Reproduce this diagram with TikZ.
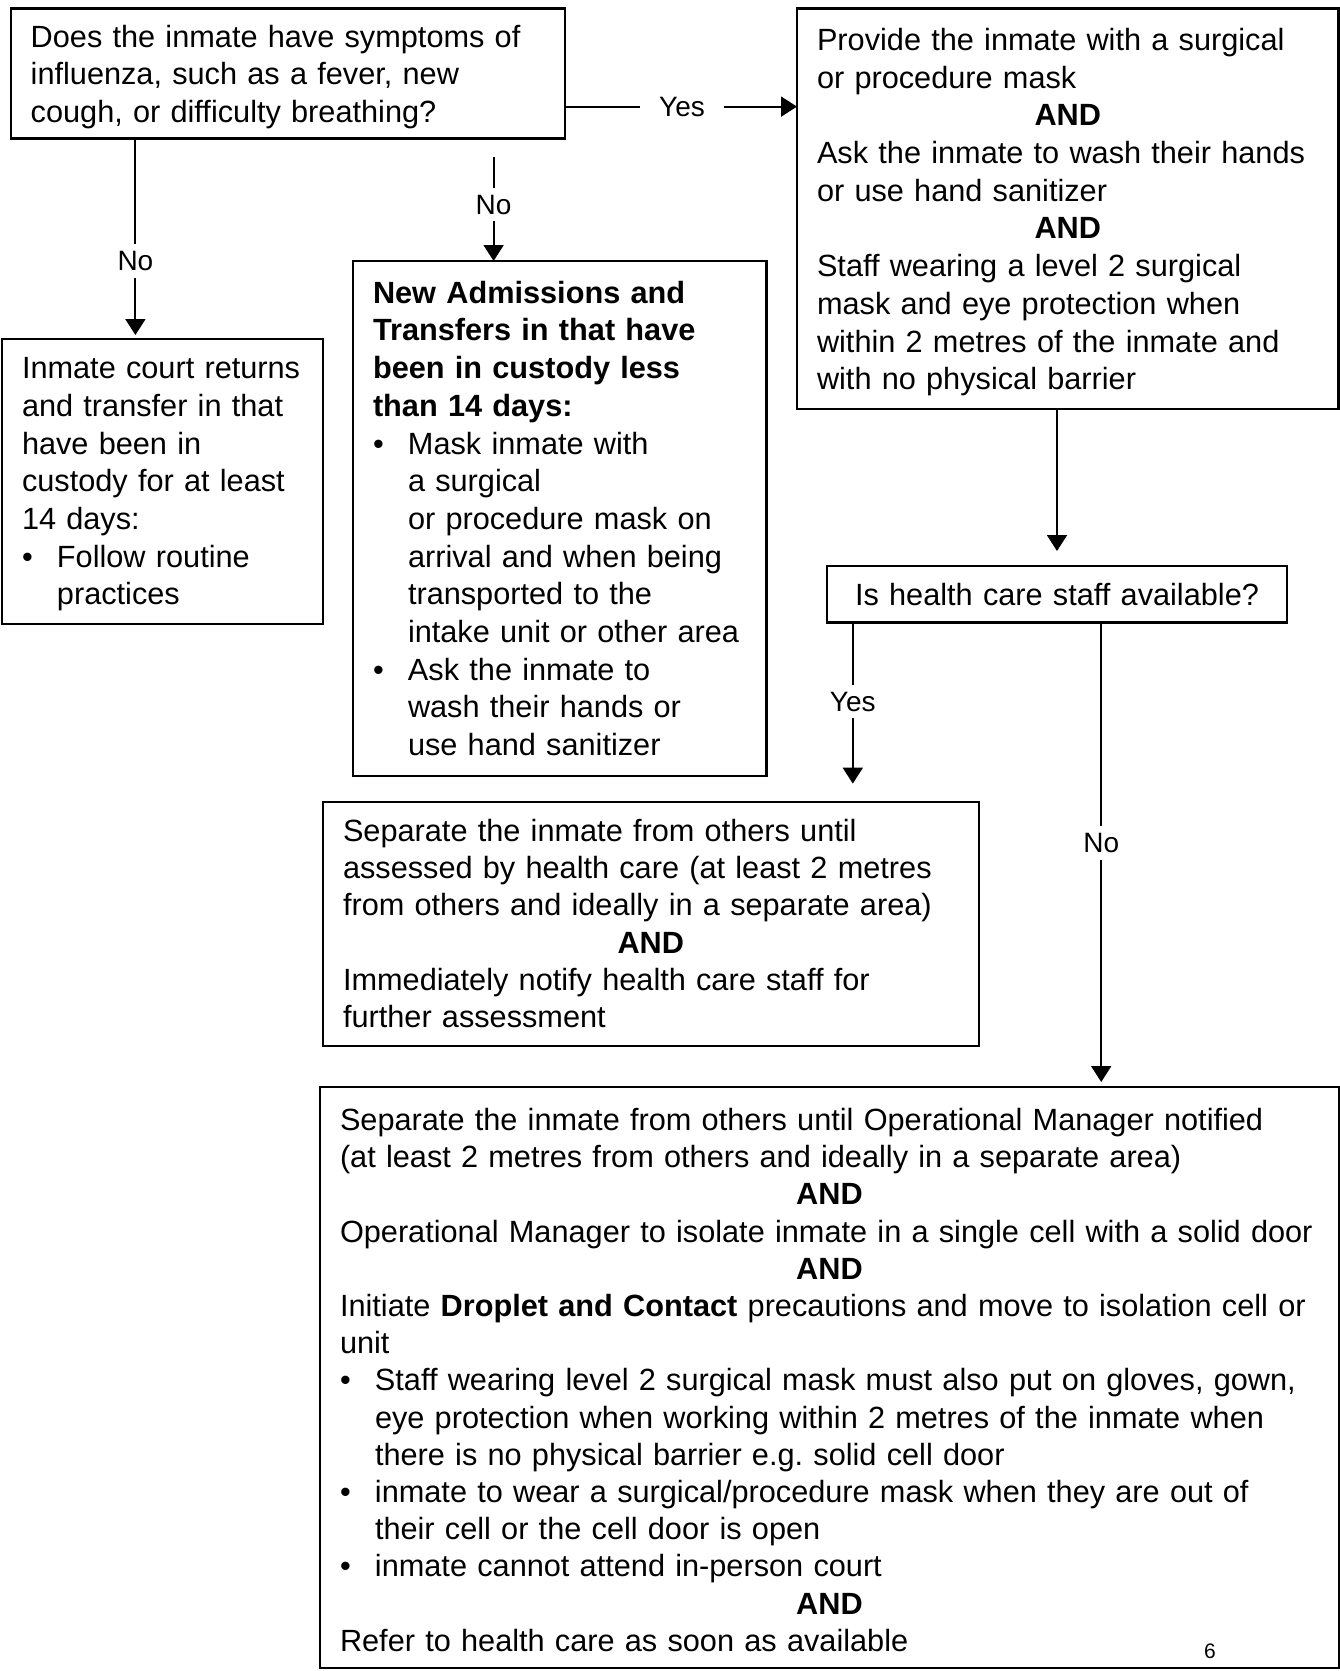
\documentclass[tikz,border=0pt]{standalone}
\usepackage{fontspec}
\setmainfont{Liberation Sans}
\usetikzlibrary{arrows.meta,calc}
\frenchspacing
\newcommand{\bitem}{\makebox[35pt][l]{\textbullet}}
\newcommand{\bcont}{\hspace*{35pt}}
\newcommand{\andline}{\makebox[\linewidth]{\textbf{AND}}}
\newcommand{\lne}[1]{\mbox{#1}}
\begin{document}
\begin{tikzpicture}[x=1pt,y=-1pt,
  box/.style={draw, line width=2.2pt, anchor=north west, inner xsep=20pt, inner ysep=0pt,
    align=left, outer sep=0pt, font=\fontsize{30.7}{37.7}\selectfont},
  tdown/.style={execute at begin node={\rule{0pt}{#1}}},
  lab/.style={fill=white, inner xsep=8pt, inner ysep=7pt, font=\fontsize{28}{32}\selectfont},
  arr/.style={line width=2pt, -{Triangle[length=16pt,width=20pt]}}]
\useasboundingbox (0,0) rectangle (1340,1671);

% boxes
\node[box, tdown=29pt, text width=514.3pt, minimum height=130pt] (A) at (10.7,8.5)
 {\lne{Does the inmate have symptoms of}\\
  \lne{influenza, such as a fever, new}\\
  \lne{cough, or difficulty breathing?}};

\node[box, tdown=29pt, text width=501.5pt, minimum height=400.5pt] (B) at (797,8.5)
 {\lne{Provide the inmate with a surgical}\\
  \lne{or procedure mask}\\
  \andline\\
  \lne{Ask the inmate to wash their hands}\\
  \lne{or use hand sanitizer}\\
  \andline\\
  \lne{Staff wearing a level 2 surgical}\\
  \lne{mask and eye protection when}\\
  \lne{within 2 metres of the inmate and}\\
  \lne{with no physical barrier}};

\node[box, tdown=27pt, text width=281pt, minimum height=285pt] (C) at (2,339)
 {\lne{Inmate court returns}\\
  \lne{and transfer in that}\\
  \lne{have been in}\\
  \lne{custody for at least}\\
  \lne{14 days:}\\
  \bitem\lne{Follow routine}\\
  \bcont\lne{practices}};

\node[box, text width=373.5pt, minimum height=515pt] (D) at (353,261)
 {\lne{\textbf{New Admissions and}}\\
  \lne{\textbf{Transfers in that have}}\\
  \lne{\textbf{been in custody less}}\\
  \lne{\textbf{than 14 days:}}\\
  \bitem\lne{Mask inmate with}\\
  \bcont\lne{a surgical}\\
  \bcont\lne{or procedure mask on}\\
  \bcont\lne{arrival and when being}\\
  \bcont\lne{transported to the}\\
  \bcont\lne{intake unit or other area}\\
  \bitem\lne{Ask the inmate to}\\
  \bcont\lne{wash their hands or}\\
  \bcont\lne{use hand sanitizer}};

\node[box, text width=420pt, minimum height=56.5pt, align=center] (E) at (827,566)
 {Is health care staff available?};

\node[box, text width=615.6pt, minimum height=244pt, font=\fontsize{30.7}{37.2}\selectfont] (F) at (323,801.6)
 {\lne{Separate the inmate from others until}\\
  \lne{assessed by health care (at least 2 metres}\\
  \lne{from others and ideally in a separate area)}\\
  \andline\\
  \lne{Immediately notify health care staff for}\\
  \lne{further assessment}};

\node[box, tdown=27pt, text width=979pt, minimum height=581pt, font=\fontsize{30.7}{37.2}\selectfont] (G) at (320,1087)
 {\lne{Separate the inmate from others until Operational Manager notified}\\
  \lne{(at least 2 metres from others and ideally in a separate area)}\\
  \andline\\
  \lne{Operational Manager to isolate inmate in a single cell with a solid door}\\
  \andline\\
  \lne{Initiate \textbf{Droplet and Contact} precautions and move to isolation cell or}\\
  \lne{unit}\\
  \bitem\lne{Staff wearing level 2 surgical mask must also put on gloves, gown,}\\
  \bcont\lne{eye protection when working within 2 metres of the inmate when}\\
  \bcont\lne{there is no physical barrier e.g. solid cell door}\\
  \bitem\lne{inmate to wear a surgical/procedure mask when they are out of}\\
  \bcont\lne{their cell or the cell door is open}\\
  \bitem\lne{inmate cannot attend in-person court}\\
  \andline\\
  \lne{Refer to health care as soon as available}};

\node[font=\fontsize{21}{24}\selectfont, inner sep=0pt] (pg) at (1210,1651) {6};

% connectors
\coordinate (yA) at (565,106.6);
\draw[arr] (A.east |- yA) -- (B.west |- yA);
\node[lab, inner xsep=19pt] (lyes1) at (682,106.6) {Yes};

\coordinate (xL) at (135.4,0);
\draw[arr, shorten >=4pt] (xL |- A.south) -- (xL |- C.north);
\node[lab] (lno1) at (135.4,261) {No};

\coordinate (m1) at (493.6,157);
\draw[arr] (m1) -- (m1 |- D.north);
\node[lab] (lno2) at (493.6,204.7) {No};

\draw[arr, shorten >=15pt] (B.south -| E.north) -- (E.north);

\coordinate (xY) at (852.8,0);
\draw[arr, shorten >=18pt] (xY |- E.south) -- (xY |- F.north);
\node[lab] (lyes2) at (852.8,701.5) {Yes};

\coordinate (xN) at (1101.2,0);
\draw[arr, shorten >=5pt] (xN |- E.south) -- (xN |- G.north);
\node[lab] (lno3) at (1101.2,843) {No};
\end{tikzpicture}
\end{document}
